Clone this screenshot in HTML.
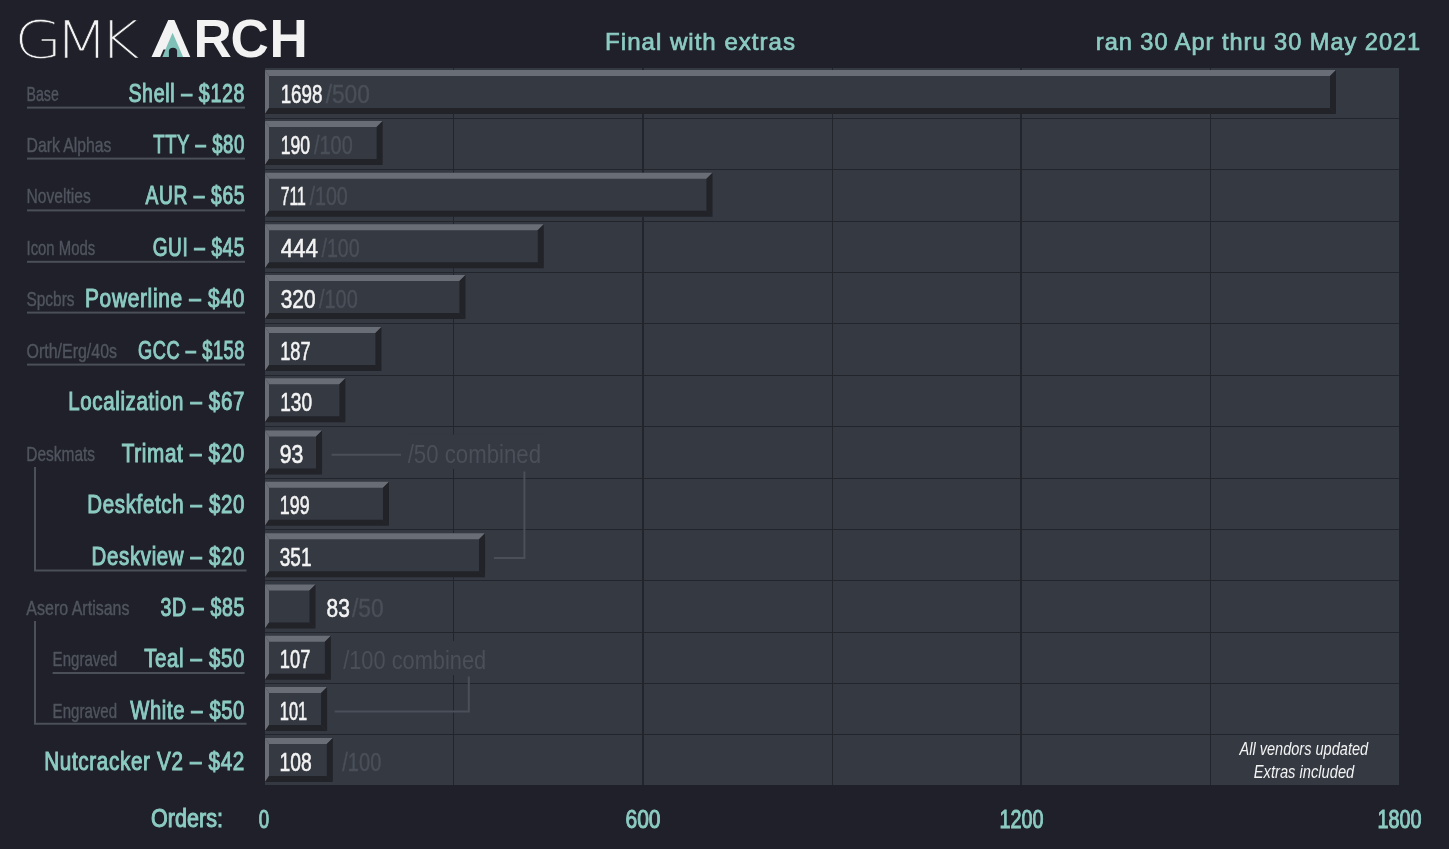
<!DOCTYPE html>
<html><head><meta charset="utf-8"><title>GMK Arch</title>
<style>html,body{margin:0;padding:0;background:#1f2029;}body{width:1449px;height:849px;overflow:hidden;}svg{display:block;}</style>
</head><body>
<svg width="1449" height="849" viewBox="0 0 1449 849">
<rect x="0" y="0" width="1449" height="849" fill="#1f2029"/>
<rect x="265" y="68" width="1134" height="717" fill="#353942"/>
<rect x="453" y="68" width="1" height="717" fill="#23252c"/>
<rect x="642" y="68" width="2" height="717" fill="#23252c"/>
<rect x="832" y="68" width="1" height="717" fill="#23252c"/>
<rect x="1020" y="68" width="2" height="717" fill="#23252c"/>
<rect x="1210" y="68" width="1" height="717" fill="#23252c"/>
<rect x="265" y="118" width="1134" height="1" fill="#23252c"/>
<rect x="265" y="169" width="1134" height="1" fill="#23252c"/>
<rect x="265" y="221" width="1134" height="1" fill="#23252c"/>
<rect x="265" y="272" width="1134" height="1" fill="#23252c"/>
<rect x="265" y="323" width="1134" height="1" fill="#23252c"/>
<rect x="265" y="375" width="1134" height="1" fill="#23252c"/>
<rect x="265" y="426" width="1134" height="1" fill="#23252c"/>
<rect x="265" y="478" width="1134" height="1" fill="#23252c"/>
<rect x="265" y="529" width="1134" height="1" fill="#23252c"/>
<rect x="265" y="580" width="1134" height="1" fill="#23252c"/>
<rect x="265" y="632" width="1134" height="1" fill="#23252c"/>
<rect x="265" y="683" width="1134" height="1" fill="#23252c"/>
<rect x="265" y="734" width="1134" height="1" fill="#23252c"/>
<rect x="265" y="70.00" width="1071.00" height="44" fill="#353942"/>
<polygon points="265,70.00 1336.00,70.00 1330.00,76.00 269,76.00" fill="#696e76"/>
<polygon points="265,70.00 269,76.00 269,108.00 265,114.00" fill="#696e76"/>
<polygon points="265,114.00 269,108.00 1330.00,108.00 1336.00,114.00" fill="#212328"/>
<polygon points="1336.00,70.00 1336.00,114.00 1330.00,108.00 1330.00,76.00" fill="#212328"/>
<rect x="265" y="121.00" width="117.60" height="44" fill="#353942"/>
<polygon points="265,121.00 382.60,121.00 376.60,127.00 269,127.00" fill="#696e76"/>
<polygon points="265,121.00 269,127.00 269,159.00 265,165.00" fill="#696e76"/>
<polygon points="265,165.00 269,159.00 376.60,159.00 382.60,165.00" fill="#212328"/>
<polygon points="382.60,121.00 382.60,165.00 376.60,159.00 376.60,127.00" fill="#212328"/>
<rect x="265" y="172.80" width="447.47" height="44" fill="#353942"/>
<polygon points="265,172.80 712.47,172.80 706.47,178.80 269,178.80" fill="#696e76"/>
<polygon points="265,172.80 269,178.80 269,210.80 265,216.80" fill="#696e76"/>
<polygon points="265,216.80 269,210.80 706.47,210.80 712.47,216.80" fill="#212328"/>
<polygon points="712.47,172.80 712.47,216.80 706.47,210.80 706.47,178.80" fill="#212328"/>
<rect x="265" y="224.20" width="278.78" height="44" fill="#353942"/>
<polygon points="265,224.20 543.78,224.20 537.78,230.20 269,230.20" fill="#696e76"/>
<polygon points="265,224.20 269,230.20 269,262.20 265,268.20" fill="#696e76"/>
<polygon points="265,268.20 269,262.20 537.78,262.20 543.78,268.20" fill="#212328"/>
<polygon points="543.78,224.20 543.78,268.20 537.78,262.20 537.78,230.20" fill="#212328"/>
<rect x="265" y="275.00" width="200.44" height="44" fill="#353942"/>
<polygon points="265,275.00 465.44,275.00 459.44,281.00 269,281.00" fill="#696e76"/>
<polygon points="265,275.00 269,281.00 269,313.00 265,319.00" fill="#696e76"/>
<polygon points="265,319.00 269,313.00 459.44,313.00 465.44,319.00" fill="#212328"/>
<polygon points="465.44,275.00 465.44,319.00 459.44,313.00 459.44,281.00" fill="#212328"/>
<rect x="265" y="327.00" width="116.41" height="44" fill="#353942"/>
<polygon points="265,327.00 381.41,327.00 375.41,333.00 269,333.00" fill="#696e76"/>
<polygon points="265,327.00 269,333.00 269,365.00 265,371.00" fill="#696e76"/>
<polygon points="265,371.00 269,365.00 375.41,365.00 381.41,371.00" fill="#212328"/>
<polygon points="381.41,327.00 381.41,371.00 375.41,365.00 375.41,333.00" fill="#212328"/>
<rect x="265" y="378.30" width="80.39" height="44" fill="#353942"/>
<polygon points="265,378.30 345.39,378.30 339.39,384.30 269,384.30" fill="#696e76"/>
<polygon points="265,378.30 269,384.30 269,416.30 265,422.30" fill="#696e76"/>
<polygon points="265,422.30 269,416.30 339.39,416.30 345.39,422.30" fill="#212328"/>
<polygon points="345.39,378.30 345.39,422.30 339.39,416.30 339.39,384.30" fill="#212328"/>
<rect x="265" y="430.50" width="57.02" height="44" fill="#353942"/>
<polygon points="265,430.50 322.02,430.50 316.02,436.50 269,436.50" fill="#696e76"/>
<polygon points="265,430.50 269,436.50 269,468.50 265,474.50" fill="#696e76"/>
<polygon points="265,474.50 269,468.50 316.02,468.50 322.02,474.50" fill="#212328"/>
<polygon points="322.02,430.50 322.02,474.50 316.02,468.50 316.02,436.50" fill="#212328"/>
<rect x="265" y="481.80" width="123.99" height="44" fill="#353942"/>
<polygon points="265,481.80 388.99,481.80 382.99,487.80 269,487.80" fill="#696e76"/>
<polygon points="265,481.80 269,487.80 269,519.80 265,525.80" fill="#696e76"/>
<polygon points="265,525.80 269,519.80 382.99,519.80 388.99,525.80" fill="#212328"/>
<polygon points="388.99,481.80 388.99,525.80 382.99,519.80 382.99,487.80" fill="#212328"/>
<rect x="265" y="533.20" width="220.02" height="44" fill="#353942"/>
<polygon points="265,533.20 485.02,533.20 479.02,539.20 269,539.20" fill="#696e76"/>
<polygon points="265,533.20 269,539.20 269,571.20 265,577.20" fill="#696e76"/>
<polygon points="265,577.20 269,571.20 479.02,571.20 485.02,577.20" fill="#212328"/>
<polygon points="485.02,533.20 485.02,577.20 479.02,571.20 479.02,539.20" fill="#212328"/>
<rect x="265" y="584.60" width="50.50" height="44" fill="#353942"/>
<polygon points="265,584.60 315.50,584.60 309.50,590.60 269,590.60" fill="#696e76"/>
<polygon points="265,584.60 269,590.60 269,622.60 265,628.60" fill="#696e76"/>
<polygon points="265,628.60 269,622.60 309.50,622.60 315.50,628.60" fill="#212328"/>
<polygon points="315.50,584.60 315.50,628.60 309.50,622.60 309.50,590.60" fill="#212328"/>
<rect x="265" y="635.80" width="65.86" height="44" fill="#353942"/>
<polygon points="265,635.80 330.86,635.80 324.86,641.80 269,641.80" fill="#696e76"/>
<polygon points="265,635.80 269,641.80 269,673.80 265,679.80" fill="#696e76"/>
<polygon points="265,679.80 269,673.80 324.86,673.80 330.86,679.80" fill="#212328"/>
<polygon points="330.86,635.80 330.86,679.80 324.86,673.80 324.86,641.80" fill="#212328"/>
<rect x="265" y="687.00" width="62.07" height="44" fill="#353942"/>
<polygon points="265,687.00 327.07,687.00 321.07,693.00 269,693.00" fill="#696e76"/>
<polygon points="265,687.00 269,693.00 269,725.00 265,731.00" fill="#696e76"/>
<polygon points="265,731.00 269,725.00 321.07,725.00 327.07,731.00" fill="#212328"/>
<polygon points="327.07,687.00 327.07,731.00 321.07,725.00 321.07,693.00" fill="#212328"/>
<rect x="265" y="738.00" width="67.80" height="44" fill="#353942"/>
<polygon points="265,738.00 332.80,738.00 326.80,744.00 269,744.00" fill="#696e76"/>
<polygon points="265,738.00 269,744.00 269,776.00 265,782.00" fill="#696e76"/>
<polygon points="265,782.00 269,776.00 326.80,776.00 332.80,782.00" fill="#212328"/>
<polygon points="332.80,738.00 332.80,782.00 326.80,776.00 326.80,744.00" fill="#212328"/>
<text x="245.0" y="101.5" font-size="25" fill="#8ccbc2" text-anchor="end" font-weight="normal" font-style="normal" font-family="'Liberation Sans', Arial, sans-serif" textLength="116.6" lengthAdjust="spacingAndGlyphs" stroke="#8ccbc2" stroke-width="1.0" letter-spacing="0.8">Shell – $128</text>
<text x="26.5" y="100.6" font-size="20.6" fill="#50555e" text-anchor="start" font-weight="normal" font-style="normal" font-family="'Liberation Sans', Arial, sans-serif" textLength="32.3" lengthAdjust="spacingAndGlyphs" stroke="#50555e" stroke-width="0.4">Base</text>
<text x="280.7" y="102.5" font-size="25" fill="#f3f3f3" text-anchor="start" font-weight="normal" font-style="normal" font-family="'Liberation Sans', Arial, sans-serif" textLength="41.7" lengthAdjust="spacingAndGlyphs" stroke="#f3f3f3" stroke-width="0.6">1698</text>
<text x="325.7" y="102.5" font-size="25" fill="#4a4f58" text-anchor="start" font-weight="normal" font-style="normal" font-family="'Liberation Sans', Arial, sans-serif" textLength="44.2" lengthAdjust="spacingAndGlyphs" stroke="#4a4f58" stroke-width="0.4">/500</text>
<text x="245.0" y="152.5" font-size="25" fill="#8ccbc2" text-anchor="end" font-weight="normal" font-style="normal" font-family="'Liberation Sans', Arial, sans-serif" textLength="91.8" lengthAdjust="spacingAndGlyphs" stroke="#8ccbc2" stroke-width="1.0" letter-spacing="0.8">TTY – $80</text>
<text x="26.5" y="151.6" font-size="20.6" fill="#50555e" text-anchor="start" font-weight="normal" font-style="normal" font-family="'Liberation Sans', Arial, sans-serif" textLength="85.0" lengthAdjust="spacingAndGlyphs" stroke="#50555e" stroke-width="0.4">Dark Alphas</text>
<text x="280.7" y="153.5" font-size="25" fill="#f3f3f3" text-anchor="start" font-weight="normal" font-style="normal" font-family="'Liberation Sans', Arial, sans-serif" textLength="29.3" lengthAdjust="spacingAndGlyphs" stroke="#f3f3f3" stroke-width="0.6">190</text>
<text x="314.0" y="153.5" font-size="25" fill="#4a4f58" text-anchor="start" font-weight="normal" font-style="normal" font-family="'Liberation Sans', Arial, sans-serif" textLength="38.8" lengthAdjust="spacingAndGlyphs" stroke="#4a4f58" stroke-width="0.4">/100</text>
<text x="245.0" y="204.3" font-size="25" fill="#8ccbc2" text-anchor="end" font-weight="normal" font-style="normal" font-family="'Liberation Sans', Arial, sans-serif" textLength="99.5" lengthAdjust="spacingAndGlyphs" stroke="#8ccbc2" stroke-width="1.0" letter-spacing="0.8">AUR – $65</text>
<text x="26.5" y="203.4" font-size="20.6" fill="#50555e" text-anchor="start" font-weight="normal" font-style="normal" font-family="'Liberation Sans', Arial, sans-serif" textLength="64.3" lengthAdjust="spacingAndGlyphs" stroke="#50555e" stroke-width="0.4">Novelties</text>
<text x="280.7" y="205.3" font-size="25" fill="#f3f3f3" text-anchor="start" font-weight="normal" font-style="normal" font-family="'Liberation Sans', Arial, sans-serif" textLength="25.2" lengthAdjust="spacingAndGlyphs" stroke="#f3f3f3" stroke-width="0.6">711</text>
<text x="309.5" y="205.3" font-size="25" fill="#4a4f58" text-anchor="start" font-weight="normal" font-style="normal" font-family="'Liberation Sans', Arial, sans-serif" textLength="38.3" lengthAdjust="spacingAndGlyphs" stroke="#4a4f58" stroke-width="0.4">/100</text>
<text x="245.0" y="255.7" font-size="25" fill="#8ccbc2" text-anchor="end" font-weight="normal" font-style="normal" font-family="'Liberation Sans', Arial, sans-serif" textLength="92.3" lengthAdjust="spacingAndGlyphs" stroke="#8ccbc2" stroke-width="1.0" letter-spacing="0.8">GUI – $45</text>
<text x="26.5" y="254.8" font-size="20.6" fill="#50555e" text-anchor="start" font-weight="normal" font-style="normal" font-family="'Liberation Sans', Arial, sans-serif" textLength="68.7" lengthAdjust="spacingAndGlyphs" stroke="#50555e" stroke-width="0.4">Icon Mods</text>
<text x="280.7" y="256.7" font-size="25" fill="#f3f3f3" text-anchor="start" font-weight="normal" font-style="normal" font-family="'Liberation Sans', Arial, sans-serif" textLength="37.3" lengthAdjust="spacingAndGlyphs" stroke="#f3f3f3" stroke-width="0.6">444</text>
<text x="321.5" y="256.7" font-size="25" fill="#4a4f58" text-anchor="start" font-weight="normal" font-style="normal" font-family="'Liberation Sans', Arial, sans-serif" textLength="38.2" lengthAdjust="spacingAndGlyphs" stroke="#4a4f58" stroke-width="0.4">/100</text>
<text x="245.0" y="306.5" font-size="25" fill="#8ccbc2" text-anchor="end" font-weight="normal" font-style="normal" font-family="'Liberation Sans', Arial, sans-serif" textLength="160.0" lengthAdjust="spacingAndGlyphs" stroke="#8ccbc2" stroke-width="1.0" letter-spacing="0.8">Powerline – $40</text>
<text x="26.5" y="305.6" font-size="20.6" fill="#50555e" text-anchor="start" font-weight="normal" font-style="normal" font-family="'Liberation Sans', Arial, sans-serif" textLength="48.0" lengthAdjust="spacingAndGlyphs" stroke="#50555e" stroke-width="0.4">Spcbrs</text>
<text x="280.7" y="307.5" font-size="25" fill="#f3f3f3" text-anchor="start" font-weight="normal" font-style="normal" font-family="'Liberation Sans', Arial, sans-serif" textLength="34.8" lengthAdjust="spacingAndGlyphs" stroke="#f3f3f3" stroke-width="0.6">320</text>
<text x="319.0" y="307.5" font-size="25" fill="#4a4f58" text-anchor="start" font-weight="normal" font-style="normal" font-family="'Liberation Sans', Arial, sans-serif" textLength="38.8" lengthAdjust="spacingAndGlyphs" stroke="#4a4f58" stroke-width="0.4">/100</text>
<text x="245.0" y="358.5" font-size="25" fill="#8ccbc2" text-anchor="end" font-weight="normal" font-style="normal" font-family="'Liberation Sans', Arial, sans-serif" textLength="107.0" lengthAdjust="spacingAndGlyphs" stroke="#8ccbc2" stroke-width="1.0" letter-spacing="0.8">GCC – $158</text>
<text x="26.5" y="357.6" font-size="20.6" fill="#50555e" text-anchor="start" font-weight="normal" font-style="normal" font-family="'Liberation Sans', Arial, sans-serif" textLength="90.5" lengthAdjust="spacingAndGlyphs" stroke="#50555e" stroke-width="0.4">Orth/Erg/40s</text>
<text x="280.2" y="359.5" font-size="25" fill="#f3f3f3" text-anchor="start" font-weight="normal" font-style="normal" font-family="'Liberation Sans', Arial, sans-serif" textLength="30.4" lengthAdjust="spacingAndGlyphs" stroke="#f3f3f3" stroke-width="0.6">187</text>
<text x="245.0" y="409.8" font-size="25" fill="#8ccbc2" text-anchor="end" font-weight="normal" font-style="normal" font-family="'Liberation Sans', Arial, sans-serif" textLength="176.8" lengthAdjust="spacingAndGlyphs" stroke="#8ccbc2" stroke-width="1.0" letter-spacing="0.8">Localization – $67</text>
<text x="280.2" y="410.8" font-size="25" fill="#f3f3f3" text-anchor="start" font-weight="normal" font-style="normal" font-family="'Liberation Sans', Arial, sans-serif" textLength="31.8" lengthAdjust="spacingAndGlyphs" stroke="#f3f3f3" stroke-width="0.6">130</text>
<text x="245.0" y="462.0" font-size="25" fill="#8ccbc2" text-anchor="end" font-weight="normal" font-style="normal" font-family="'Liberation Sans', Arial, sans-serif" textLength="123.3" lengthAdjust="spacingAndGlyphs" stroke="#8ccbc2" stroke-width="1.0" letter-spacing="0.8">Trimat – $20</text>
<text x="26.3" y="461.1" font-size="20.6" fill="#50555e" text-anchor="start" font-weight="normal" font-style="normal" font-family="'Liberation Sans', Arial, sans-serif" textLength="68.8" lengthAdjust="spacingAndGlyphs" stroke="#50555e" stroke-width="0.4">Deskmats</text>
<text x="279.8" y="463.0" font-size="25" fill="#f3f3f3" text-anchor="start" font-weight="normal" font-style="normal" font-family="'Liberation Sans', Arial, sans-serif" textLength="23.6" lengthAdjust="spacingAndGlyphs" stroke="#f3f3f3" stroke-width="0.6">93</text>
<text x="245.0" y="513.3" font-size="25" fill="#8ccbc2" text-anchor="end" font-weight="normal" font-style="normal" font-family="'Liberation Sans', Arial, sans-serif" textLength="157.7" lengthAdjust="spacingAndGlyphs" stroke="#8ccbc2" stroke-width="1.0" letter-spacing="0.8">Deskfetch – $20</text>
<text x="279.8" y="514.3" font-size="25" fill="#f3f3f3" text-anchor="start" font-weight="normal" font-style="normal" font-family="'Liberation Sans', Arial, sans-serif" textLength="29.8" lengthAdjust="spacingAndGlyphs" stroke="#f3f3f3" stroke-width="0.6">199</text>
<text x="245.0" y="564.7" font-size="25" fill="#8ccbc2" text-anchor="end" font-weight="normal" font-style="normal" font-family="'Liberation Sans', Arial, sans-serif" textLength="153.4" lengthAdjust="spacingAndGlyphs" stroke="#8ccbc2" stroke-width="1.0" letter-spacing="0.8">Deskview – $20</text>
<text x="279.8" y="565.7" font-size="25" fill="#f3f3f3" text-anchor="start" font-weight="normal" font-style="normal" font-family="'Liberation Sans', Arial, sans-serif" textLength="31.7" lengthAdjust="spacingAndGlyphs" stroke="#f3f3f3" stroke-width="0.6">351</text>
<text x="245.0" y="616.1" font-size="25" fill="#8ccbc2" text-anchor="end" font-weight="normal" font-style="normal" font-family="'Liberation Sans', Arial, sans-serif" textLength="84.6" lengthAdjust="spacingAndGlyphs" stroke="#8ccbc2" stroke-width="1.0" letter-spacing="0.8">3D – $85</text>
<text x="26.3" y="615.2" font-size="20.6" fill="#50555e" text-anchor="start" font-weight="normal" font-style="normal" font-family="'Liberation Sans', Arial, sans-serif" textLength="103.2" lengthAdjust="spacingAndGlyphs" stroke="#50555e" stroke-width="0.4">Asero Artisans</text>
<text x="326.6" y="617.1" font-size="25" fill="#f3f3f3" text-anchor="start" font-weight="normal" font-style="normal" font-family="'Liberation Sans', Arial, sans-serif" textLength="23.2" lengthAdjust="spacingAndGlyphs" stroke="#f3f3f3" stroke-width="0.6">83</text>
<text x="352.0" y="617.1" font-size="25" fill="#4a4f58" text-anchor="start" font-weight="normal" font-style="normal" font-family="'Liberation Sans', Arial, sans-serif" textLength="31.8" lengthAdjust="spacingAndGlyphs" stroke="#4a4f58" stroke-width="0.4">/50</text>
<text x="245.0" y="667.3" font-size="25" fill="#8ccbc2" text-anchor="end" font-weight="normal" font-style="normal" font-family="'Liberation Sans', Arial, sans-serif" textLength="100.8" lengthAdjust="spacingAndGlyphs" stroke="#8ccbc2" stroke-width="1.0" letter-spacing="0.8">Teal – $50</text>
<text x="52.6" y="666.4" font-size="20.6" fill="#50555e" text-anchor="start" font-weight="normal" font-style="normal" font-family="'Liberation Sans', Arial, sans-serif" textLength="64.5" lengthAdjust="spacingAndGlyphs" stroke="#50555e" stroke-width="0.4">Engraved</text>
<text x="279.8" y="668.3" font-size="25" fill="#f3f3f3" text-anchor="start" font-weight="normal" font-style="normal" font-family="'Liberation Sans', Arial, sans-serif" textLength="30.5" lengthAdjust="spacingAndGlyphs" stroke="#f3f3f3" stroke-width="0.6">107</text>
<text x="245.0" y="718.5" font-size="25" fill="#8ccbc2" text-anchor="end" font-weight="normal" font-style="normal" font-family="'Liberation Sans', Arial, sans-serif" textLength="114.8" lengthAdjust="spacingAndGlyphs" stroke="#8ccbc2" stroke-width="1.0" letter-spacing="0.8">White – $50</text>
<text x="52.6" y="717.6" font-size="20.6" fill="#50555e" text-anchor="start" font-weight="normal" font-style="normal" font-family="'Liberation Sans', Arial, sans-serif" textLength="64.5" lengthAdjust="spacingAndGlyphs" stroke="#50555e" stroke-width="0.4">Engraved</text>
<text x="279.8" y="719.5" font-size="25" fill="#f3f3f3" text-anchor="start" font-weight="normal" font-style="normal" font-family="'Liberation Sans', Arial, sans-serif" textLength="27.4" lengthAdjust="spacingAndGlyphs" stroke="#f3f3f3" stroke-width="0.6">101</text>
<text x="245.0" y="769.5" font-size="25" fill="#8ccbc2" text-anchor="end" font-weight="normal" font-style="normal" font-family="'Liberation Sans', Arial, sans-serif" textLength="200.8" lengthAdjust="spacingAndGlyphs" stroke="#8ccbc2" stroke-width="1.0" letter-spacing="0.8">Nutcracker V2 – $42</text>
<text x="279.5" y="770.5" font-size="25" fill="#f3f3f3" text-anchor="start" font-weight="normal" font-style="normal" font-family="'Liberation Sans', Arial, sans-serif" textLength="32.1" lengthAdjust="spacingAndGlyphs" stroke="#f3f3f3" stroke-width="0.6">108</text>
<text x="342.3" y="770.5" font-size="25" fill="#4a4f58" text-anchor="start" font-weight="normal" font-style="normal" font-family="'Liberation Sans', Arial, sans-serif" textLength="39.0" lengthAdjust="spacingAndGlyphs" stroke="#4a4f58" stroke-width="0.4">/100</text>
<rect x="27" y="106.6" width="218" height="2" fill="#4b4f58"/>
<rect x="27" y="157.6" width="218" height="2" fill="#4b4f58"/>
<rect x="27" y="209.4" width="218" height="2" fill="#4b4f58"/>
<rect x="27" y="260.8" width="218" height="2" fill="#4b4f58"/>
<rect x="27" y="311.6" width="218" height="2" fill="#4b4f58"/>
<rect x="27" y="363.6" width="218" height="2" fill="#4b4f58"/>
<rect x="52.6" y="672.0" width="192" height="2" fill="#4b4f58"/>
<path d="M35,467 V570.5 H246.5" stroke="#4b4f58" stroke-width="2" fill="none"/>
<path d="M35,621 V723.8 H246.5" stroke="#4b4f58" stroke-width="2" fill="none"/>
<path d="M331.6,454.8 H401" stroke="#4b4f58" stroke-width="2" fill="none"/>
<path d="M524.4,471.4 V558 H494" stroke="#4b4f58" stroke-width="2" fill="none"/>
<path d="M334.7,711.4 H468.8 V676.6" stroke="#4b4f58" stroke-width="2" fill="none"/>
<rect x="404" y="434.5" width="142" height="34.5" fill="#353942"/>
<text x="407.7" y="462.7" font-size="25" fill="#4a4f58" text-anchor="start" font-weight="normal" font-style="normal" font-family="'Liberation Sans', Arial, sans-serif" textLength="133.3" lengthAdjust="spacingAndGlyphs">/50 combined</text>
<rect x="339" y="641" width="152" height="34" fill="#353942"/>
<text x="343.2" y="668.8" font-size="25" fill="#4a4f58" text-anchor="start" font-weight="normal" font-style="normal" font-family="'Liberation Sans', Arial, sans-serif" textLength="143.0" lengthAdjust="spacingAndGlyphs">/100 combined</text>
<text x="1303.8" y="755.2" font-size="18.8" fill="#f3f3f3" text-anchor="middle" font-weight="normal" font-style="italic" font-family="'Liberation Sans', Arial, sans-serif" textLength="128.7" lengthAdjust="spacingAndGlyphs">All vendors updated</text>
<text x="1304.0" y="777.9" font-size="18.8" fill="#f3f3f3" text-anchor="middle" font-weight="normal" font-style="italic" font-family="'Liberation Sans', Arial, sans-serif" textLength="100.5" lengthAdjust="spacingAndGlyphs">Extras included</text>
<text x="151.1" y="826.7" font-size="25" fill="#8ccbc2" text-anchor="start" font-weight="normal" font-style="normal" font-family="'Liberation Sans', Arial, sans-serif" textLength="71.8" lengthAdjust="spacingAndGlyphs" stroke="#8ccbc2" stroke-width="1.0">Orders:</text>
<text x="258.8" y="827.8" font-size="25" fill="#8ccbc2" text-anchor="start" font-weight="normal" font-style="normal" font-family="'Liberation Sans', Arial, sans-serif" textLength="10.4" lengthAdjust="spacingAndGlyphs" stroke="#8ccbc2" stroke-width="1.0">0</text>
<text x="625.5" y="827.8" font-size="25" fill="#8ccbc2" text-anchor="start" font-weight="normal" font-style="normal" font-family="'Liberation Sans', Arial, sans-serif" textLength="35.0" lengthAdjust="spacingAndGlyphs" stroke="#8ccbc2" stroke-width="1.0">600</text>
<text x="999.5" y="827.8" font-size="25" fill="#8ccbc2" text-anchor="start" font-weight="normal" font-style="normal" font-family="'Liberation Sans', Arial, sans-serif" textLength="44.0" lengthAdjust="spacingAndGlyphs" stroke="#8ccbc2" stroke-width="1.0">1200</text>
<text x="1377.6" y="827.8" font-size="25" fill="#8ccbc2" text-anchor="start" font-weight="normal" font-style="normal" font-family="'Liberation Sans', Arial, sans-serif" textLength="44.0" lengthAdjust="spacingAndGlyphs" stroke="#8ccbc2" stroke-width="1.0">1800</text>
<text x="605.1" y="50.0" font-size="24" fill="#8ccbc2" text-anchor="start" font-weight="normal" font-style="normal" font-family="'Liberation Sans', Arial, sans-serif" textLength="190.9" lengthAdjust="spacingAndGlyphs" stroke="#8ccbc2" stroke-width="0.7" letter-spacing="1">Final with extras</text>
<text x="1095.8" y="50.0" font-size="24" fill="#8ccbc2" text-anchor="start" font-weight="normal" font-style="normal" font-family="'Liberation Sans', Arial, sans-serif" textLength="325.4" lengthAdjust="spacingAndGlyphs" stroke="#8ccbc2" stroke-width="0.7" letter-spacing="1">ran 30 Apr thru 30 May 2021</text>
<text transform="scale(1.22,1)" x="11.7 44.9 81.1" y="57.6" font-size="51" fill="#f2f2f2" stroke="#1f2029" stroke-width="0.6" font-weight="200" font-family="'DejaVu Sans', sans-serif">GMK</text>
<text x="155.4 193.6 230.6 269.6" y="57" font-size="53" fill="#f2f2f2" font-weight="bold" font-family="'Liberation Sans', Arial, sans-serif"><tspan font-size="46">A</tspan>RCH</text>
<polygon points="168.2,19.9 174.4,19.9 190.3,57 151.5,57" fill="#f2f2f2"/>
<polygon points="172.6,32.8 183.2,57 162.2,57" fill="#7fc1b8"/>
<path d="M168.9,57 V51.5 Q168.9,47.8 173,47.8 Q177.1,47.8 177.1,51.5 V57 Z" fill="#1f2029"/>
<polygon points="160.2,57 163.5,49.5 165.5,49.5 162.4,57" fill="#1f2029"/>
</svg>
</body></html>
